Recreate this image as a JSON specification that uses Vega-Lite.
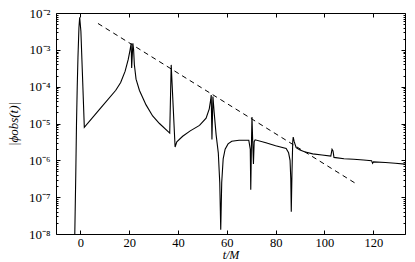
{
  "$schema": "https://vega.github.io/schema/vega-lite/v6.json",
  "width": 349,
  "height": 221,
  "autosize": {"type": "none"},
  "padding": {"left": 56, "top": 13, "right": 10, "bottom": 28},
  "background": "white",
  "config": {
    "view": {"stroke": "black", "strokeWidth": 1},
    "axis": {
      "labelFont": "Liberation Serif",
      "labelFontSize": 13,
      "labelColor": "black",
      "titleFont": "Liberation Serif",
      "titleFontSize": 13,
      "titleFontWeight": "normal",
      "titleColor": "black",
      "grid": false,
      "domain": false,
      "tickColor": "black",
      "tickWidth": 1,
      "labelFlush": false,
      "labelOverlap": false
    }
  },
  "datasets": {
    "curve": [
      {"t": -2.6, "phi": 1e-9},
      {"t": -2.3, "phi": 1e-8},
      {"t": -1.9, "phi": 4.0e-7},
      {"t": -1.6, "phi": 1.0e-5},
      {"t": -1.3, "phi": 1.0e-4},
      {"t": -1.0, "phi": 6.3e-4},
      {"t": -0.6, "phi": 4.0e-3},
      {"t": -0.3, "phi": 7.6e-3},
      {"t": 0.2, "phi": 3.2e-3},
      {"t": 0.8, "phi": 2.5e-4},
      {"t": 1.6, "phi": 7.9e-6},
      {"t": 8.0, "phi": 2.5e-5},
      {"t": 14.5, "phi": 8.0e-5},
      {"t": 16.5, "phi": 1.3e-4},
      {"t": 18.3, "phi": 2.6e-4},
      {"t": 19.6, "phi": 5.5e-4},
      {"t": 20.3, "phi": 9.5e-4},
      {"t": 20.8, "phi": 1.5e-3},
      {"t": 21.0, "phi": 3.2e-4},
      {"t": 21.5, "phi": 1.5e-3},
      {"t": 21.8, "phi": 1.0e-3},
      {"t": 22.1, "phi": 4.0e-4},
      {"t": 22.8, "phi": 1.6e-4},
      {"t": 24.2, "phi": 7.9e-5},
      {"t": 26.9, "phi": 3.2e-5},
      {"t": 29.6, "phi": 1.6e-5},
      {"t": 32.4, "phi": 1.0e-5},
      {"t": 36.6, "phi": 5.5e-6},
      {"t": 37.2, "phi": 3.9e-4},
      {"t": 38.8, "phi": 2.3e-6},
      {"t": 39.5, "phi": 3.2e-6},
      {"t": 41.9, "phi": 4.5e-6},
      {"t": 45.0, "phi": 6.3e-6},
      {"t": 48.8, "phi": 8.9e-6},
      {"t": 51.5, "phi": 1.4e-5},
      {"t": 52.8, "phi": 2.5e-5},
      {"t": 53.4, "phi": 4.5e-5},
      {"t": 53.6, "phi": 5.9e-5},
      {"t": 53.9, "phi": 3.7e-6},
      {"t": 54.3, "phi": 5.4e-5},
      {"t": 54.8, "phi": 2.0e-5},
      {"t": 55.6, "phi": 5.0e-6},
      {"t": 56.5, "phi": 1.6e-6},
      {"t": 57.1, "phi": 2.5e-7},
      {"t": 57.5, "phi": 1.3e-8},
      {"t": 57.9, "phi": 2.5e-7},
      {"t": 58.5, "phi": 1.1e-6},
      {"t": 59.3, "phi": 2.0e-6},
      {"t": 60.5, "phi": 2.8e-6},
      {"t": 62.0, "phi": 3.3e-6},
      {"t": 65.0, "phi": 3.5e-6},
      {"t": 69.0, "phi": 3.5e-6},
      {"t": 69.6, "phi": 2.0e-6},
      {"t": 69.8, "phi": 1.6e-7},
      {"t": 70.1, "phi": 3.2e-6},
      {"t": 70.3, "phi": 1.5e-5},
      {"t": 70.6, "phi": 3.2e-6},
      {"t": 70.9, "phi": 7.9e-7},
      {"t": 71.2, "phi": 3.2e-6},
      {"t": 71.6, "phi": 3.6e-6},
      {"t": 76.0, "phi": 3.0e-6},
      {"t": 80.0, "phi": 2.5e-6},
      {"t": 84.3, "phi": 2.1e-6},
      {"t": 85.3, "phi": 1.6e-6},
      {"t": 85.9, "phi": 1.0e-6},
      {"t": 86.2, "phi": 3.2e-7},
      {"t": 86.4, "phi": 4.0e-8},
      {"t": 86.7, "phi": 5.0e-7},
      {"t": 87.0, "phi": 3.2e-6},
      {"t": 87.2, "phi": 4.3e-6},
      {"t": 87.6, "phi": 3.2e-6},
      {"t": 88.4, "phi": 2.2e-6},
      {"t": 90.0, "phi": 1.9e-6},
      {"t": 91.8, "phi": 1.7e-6},
      {"t": 95.2, "phi": 1.5e-6},
      {"t": 99.0, "phi": 1.4e-6},
      {"t": 102.6, "phi": 1.3e-6},
      {"t": 103.1, "phi": 2.0e-6},
      {"t": 103.5, "phi": 1.8e-6},
      {"t": 103.9, "phi": 1.2e-6},
      {"t": 108.0, "phi": 1.1e-6},
      {"t": 112.0, "phi": 1.07e-6},
      {"t": 116.0, "phi": 1.02e-6},
      {"t": 119.3, "phi": 9.8e-7},
      {"t": 119.7, "phi": 8.3e-7},
      {"t": 120.1, "phi": 9.1e-7},
      {"t": 125.0, "phi": 8.7e-7},
      {"t": 129.0, "phi": 8.3e-7},
      {"t": 133.0, "phi": 7.9e-7}
    ],
    "dash": [
      {"t": 7.2, "phi": 5.2e-3},
      {"t": 112.6, "phi": 2.4e-7}
    ]
  },
  "layer": [
    {
      "data": {"name": "curve"},
      "mark": {"type": "line", "color": "black", "strokeWidth": 1.1, "clip": true},
      "encoding": {
        "x": {
          "field": "t", "type": "quantitative",
          "scale": {"domain": [-10, 133], "nice": false, "zero": false},
          "axis": {"orient": "bottom", "values": [0, 20, 40, 60, 80, 100, 120], "ticks": false, "labelFontSize": 12.5, "labelPadding": 2, "title": "t/M", "titleFontSize": 12, "titleFontStyle": "italic", "titlePadding": 1}
        },
        "y": {
          "field": "phi", "type": "quantitative",
          "scale": {"type": "log", "domain": [1e-8, 1e-2], "nice": false},
          "axis": {
            "orient": "left",
            "values": [1e-8, 1e-7, 1e-6, 1e-5, 1e-4, 1e-3, 1e-2],
            "ticks": false,
            "labelPadding": 6,
            "labelBaseline": "middle",
            "labelExpr": "'10' + ['⁻⁸','⁻⁷','⁻⁶','⁻⁵','⁻⁴','⁻³','⁻²'][round(log(datum.value)/LN10) + 8]",
            "title": "|ϕobs(t)|",
            "titleFontStyle": "italic",
            "titlePadding": 8
          }
        }
      }
    },
    {
      "data": {"name": "dash"},
      "mark": {"type": "line", "color": "black", "strokeWidth": 1, "strokeDash": [5, 4], "clip": true},
      "encoding": {
        "x": {
          "field": "t", "type": "quantitative",
          "scale": {"domain": [-10, 133], "nice": false, "zero": false},
          "axis": {"orient": "top", "values": [0, 20, 40, 60, 80, 100, 120], "labels": false, "tickSize": -4, "title": null}
        },
        "y": {
          "field": "phi", "type": "quantitative",
          "scale": {"type": "log", "domain": [1e-8, 1e-2], "nice": false},
          "axis": {"orient": "right", "values": [1e-8, 1e-7, 1e-6, 1e-5, 1e-4, 1e-3, 1e-2], "labels": false, "tickSize": -4, "title": null}
        }
      }
    },
    {
      "data": {"name": "dash"},
      "mark": {"type": "line", "strokeOpacity": 0},
      "encoding": {
        "x": {
          "field": "t", "type": "quantitative",
          "scale": {"domain": [-10, 133], "nice": false, "zero": false},
          "axis": {"orient": "bottom", "values": [0, 20, 40, 60, 80, 100, 120], "labels": false, "tickSize": -4, "title": null}
        },
        "y": {
          "field": "phi", "type": "quantitative",
          "scale": {"type": "log", "domain": [1e-8, 1e-2], "nice": false},
          "axis": {"orient": "left", "values": [1e-8, 1e-7, 1e-6, 1e-5, 1e-4, 1e-3, 1e-2], "labels": false, "tickSize": -4, "title": null}
        }
      }
    },
    {
      "data": {"name": "dash"},
      "mark": {"type": "line", "strokeOpacity": 0},
      "encoding": {
        "x": {"field": "t", "type": "quantitative", "scale": {"domain": [-10, 133], "nice": false, "zero": false}, "axis": null},
        "y": {
          "field": "phi", "type": "quantitative",
          "scale": {"type": "log", "domain": [1e-8, 1e-2], "nice": false},
          "axis": {"orient": "left", "labels": false, "tickSize": -2, "title": null,
            "values": [2e-8,3e-8,4e-8,5e-8,6e-8,7e-8,8e-8,9e-8,2e-7,3e-7,4e-7,5e-7,6e-7,7e-7,8e-7,9e-7,2e-6,3e-6,4e-6,5e-6,6e-6,7e-6,8e-6,9e-6,2e-5,3e-5,4e-5,5e-5,6e-5,7e-5,8e-5,9e-5,2e-4,3e-4,4e-4,5e-4,6e-4,7e-4,8e-4,9e-4,2e-3,3e-3,4e-3,5e-3,6e-3,7e-3,8e-3,9e-3]}
        }
      }
    },
    {
      "data": {"name": "dash"},
      "mark": {"type": "line", "strokeOpacity": 0},
      "encoding": {
        "x": {"field": "t", "type": "quantitative", "scale": {"domain": [-10, 133], "nice": false, "zero": false}, "axis": null},
        "y": {
          "field": "phi", "type": "quantitative",
          "scale": {"type": "log", "domain": [1e-8, 1e-2], "nice": false},
          "axis": {"orient": "right", "labels": false, "tickSize": -2, "title": null,
            "values": [2e-8,3e-8,4e-8,5e-8,6e-8,7e-8,8e-8,9e-8,2e-7,3e-7,4e-7,5e-7,6e-7,7e-7,8e-7,9e-7,2e-6,3e-6,4e-6,5e-6,6e-6,7e-6,8e-6,9e-6,2e-5,3e-5,4e-5,5e-5,6e-5,7e-5,8e-5,9e-5,2e-4,3e-4,4e-4,5e-4,6e-4,7e-4,8e-4,9e-4,2e-3,3e-3,4e-3,5e-3,6e-3,7e-3,8e-3,9e-3]}
        }
      }
    }
  ],
  "resolve": {"axis": {"x": "independent", "y": "independent"}}
}
